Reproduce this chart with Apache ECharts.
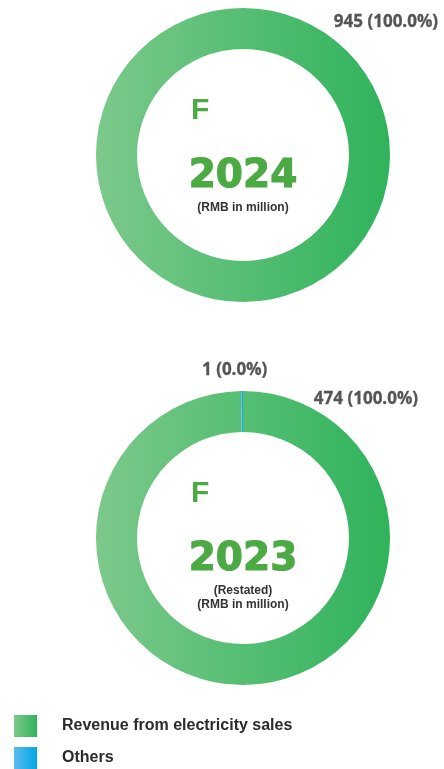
<!DOCTYPE html>
<html>
<head>
<meta charset="utf-8">
<script src="https://cdn.jsdelivr.net/npm/echarts@6/dist/echarts.min.js"></script>
<style>
  html, body { margin: 0; padding: 0; background: #fff; }
  #chart { width: 444px; height: 769px; }
</style>
</head>
<body>
<div id="chart"></div>
<script>
const categories = ['Revenue from electricity sales', 'Others'];
const years = ['2024', '2023'];
const values2024 = [945, 0];
const values2023 = [474, 1];
// percentages as printed in the report
const shares2024 = ['100.0', '0.0'];
const shares2023 = ['100.0', '0.0'];
const subtitles = [['(RMB in million)'], ['(Restated)', '(RMB in million)']];

const chart = echarts.init(document.getElementById('chart'));

const greenFill = new echarts.graphic.LinearGradient(0, 0, 1, 0, [
  { offset: 0, color: '#7cc98b' },
  { offset: 1, color: '#2fb35b' }
]);
const blueFill = new echarts.graphic.LinearGradient(0, 0, 1, 0, [
  { offset: 0, color: '#5dbbee' },
  { offset: 1, color: '#00a8e4' }
]);
const fills = [greenFill, blueFill];

const centers = [[243, 155], [243, 538]];
const green = '#4caa45';

const makePie = (name, vals, center) => ({
  type: 'pie',
  name,
  center,
  radius: [106, 147],
  startAngle: 90,
  clockwise: true,
  silent: true,
  label: { show: false },
  labelLine: { show: false },
  emphasis: { disabled: true },
  itemStyle: { borderWidth: 0 },
  data: categories.map((c, i) => ({
    name: c,
    value: vals[i],
    itemStyle: { color: fills[i] }
  }))
});

const labelStyle = { fontFamily: 'Open Sans', fontWeight: 'bold', fontSize: 17, fill: '#555', stroke: '#555', lineWidth: 0.3 };
const centerText = (cx, cy, year, subs) => {
  const els = [
    { type: 'text', x: 191, y: cy - 44, style: { text: 'F', fontFamily: 'Liberation Sans', fontWeight: 'bold', fontSize: 30, fill: green, verticalAlign: 'middle' } },
    { type: 'text', x: cx, y: cy + 22, style: { text: year, fontFamily: 'DejaVu Sans', fontWeight: 'bold', fontSize: 39, fill: green, stroke: green, lineWidth: 1.2, align: 'center', verticalAlign: 'middle' } }
  ];
  subs.forEach((s, i) => {
    els.push({ type: 'text', x: cx, y: cy + 53 + i * 14, style: { text: s, fontFamily: 'Liberation Sans', fontWeight: 'bold', fontSize: 12, fill: '#333', align: 'center', verticalAlign: 'middle' } });
  });
  return els;
};

chart.setOption({
  animation: false,
  legend: {
    orient: 'vertical',
    left: 14,
    top: 715,
    padding: 0,
    itemWidth: 23,
    itemHeight: 22,
    itemGap: 10,
    icon: 'rect',
    data: categories,
    selectedMode: false,
    textStyle: { fontFamily: 'Liberation Sans', fontWeight: 'bold', fontSize: 16, color: '#2b2b2b', padding: [0, 0, 0, 20] }
  },
  series: [
    makePie(years[0], values2024, centers[0]),
    makePie(years[1], values2023, centers[1])
  ],
  graphic: [
    { type: 'text', x: 438, y: 22, style: { ...labelStyle, text: `${values2024[0]} (${shares2024[0]}%)`, align: 'right', verticalAlign: 'middle' } },
    { type: 'text', x: 418, y: 399, style: { ...labelStyle, text: `${values2023[0]} (${shares2023[0]}%)`, align: 'right', verticalAlign: 'middle' } },
    { type: 'text', x: 202, y: 370, style: { ...labelStyle, text: `${values2023[1]} (${shares2023[1]}%)`, align: 'left', verticalAlign: 'middle' } },
    ...centerText(centers[0][0], centers[0][1], years[0], subtitles[0]),
    ...centerText(centers[1][0], centers[1][1], years[1], subtitles[1])
  ]
});
</script>
</body>
</html>
